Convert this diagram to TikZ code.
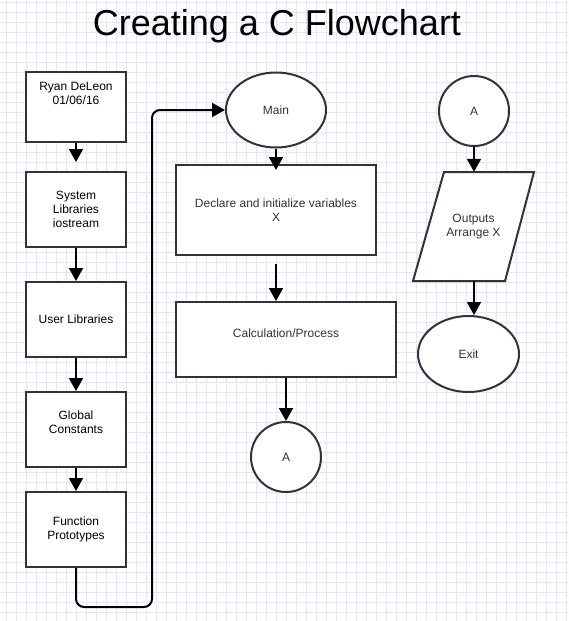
\documentclass[tikz,border=0pt]{standalone}
\usepackage{fontspec}
\setmainfont{Liberation Sans}
\usetikzlibrary{shapes.geometric,arrows.meta}
\definecolor{gridc}{RGB}{228,228,255}
\definecolor{strokec}{RGB}{51,51,51}
\definecolor{txtc}{RGB}{51,51,51}
\tikzset{
  procbox/.style={draw=strokec, line width=2pt, fill=white, minimum width=100pt, minimum height=75pt, inner sep=0pt, align=center, text=black, font=\fontsize{12}{14}\selectfont},
  ovalnode/.style={ellipse, draw=strokec, line width=2pt, fill=white, minimum width=100pt, minimum height=75pt, inner sep=0pt, text=txtc, font=\fontsize{12}{14}\selectfont},
  connnode/.style={circle, draw=strokec, line width=2pt, fill=white, minimum size=70pt, inner sep=0pt, text=txtc, font=\fontsize{12}{14}\selectfont},
  txtnode/.style={inner sep=0pt, align=center, font=\fontsize{12}{14}\selectfont},
  flowarrow/.style={line width=2pt, draw=black, -{Triangle[length=13pt,width=14pt]}},
}
\begin{document}
\begin{tikzpicture}[x=1pt,y=-1pt]
\useasboundingbox (0,0) rectangle (568,621);
\fill[white] (0,0) rectangle (568,621);
% grid
\foreach \gx in {6,16,...,566} \draw[gridc, line width=1pt] (\gx,0) -- (\gx,621);
\foreach \gy in {2,12,...,621} \draw[gridc, line width=1pt] (0,\gy) -- (568,\gy);

% title
\node[anchor=base, inner sep=0pt, font=\fontsize{36}{40}\selectfont] (title) at (277,35) {Creating a C Flowchart};

% left column
\node[procbox, minimum height=70pt] (b1) at (76,107) {};
\node[txtnode, text=black] (b1t) at (76,93) {Ryan DeLeon\\01/06/16};
\node[procbox] (b2) at (76,209.5) {System\\Libraries\\iostream};
\node[procbox] (b3) at (76,319.5) {User Libraries};
\node[procbox] (b4) at (76,429.5) {};
\node[txtnode, text=black] (b4t) at (76,422.5) {Global\\Constants};
\node[procbox] (b5) at (76,529.5) {Function\\Prototypes};

% middle column
\node[ovalnode] (main) at (276,110) {Main};
\node[procbox, minimum width=200pt, minimum height=90pt, text=txtc] (decl) at (276,210) {Declare and initialize variables\\X};
\node[procbox, minimum width=220pt, minimum height=75pt] (calc) at (286,339.5) {};
\node[txtnode, text=txtc] (calct) at (286,333) {Calculation/Process};
\node[connnode] (a1) at (286,457) {A};

% right column
\node[connnode] (a2) at (474,111) {A};
\draw[strokec, line width=2pt, fill=white, line join=miter] (413,281) -- (444,172) -- (534,172) -- (505,281) -- cycle;
\node[txtnode, text=txtc, minimum width=60pt, minimum height=109pt] (out) at (473.5,226.5) {Outputs\\Arrange X};
\node[ovalnode, minimum width=101pt, minimum height=76pt] (exit) at (468.5,354) {Exit};

% connectors
\draw[flowarrow, shorten >=9pt] (b1.south) -- (b2.north);
\draw[flowarrow] (b2.south) -- (b3.north);
\draw[flowarrow] (b3.south) -- (b4.north);
\draw[flowarrow] (b4.south) -- (b5.north);
\coordinate (c1) at (152,607);
\draw[flowarrow, rounded corners=8pt] (b5.south) |- (c1) |- (main.west);
\draw[flowarrow, shorten >=-6pt] (main.south) -- (decl.north);
\draw[flowarrow, shorten <=8pt] (decl.south) -- (decl.south |- calc.north);
\draw[flowarrow] (calc.south) -- (a1.north);
\draw[flowarrow] (a2.south) -- (a2.south |- out.north);
\draw[flowarrow] (a2.south |- out.south) -- (a2.south |- exit.north);
\end{tikzpicture}
\end{document}
